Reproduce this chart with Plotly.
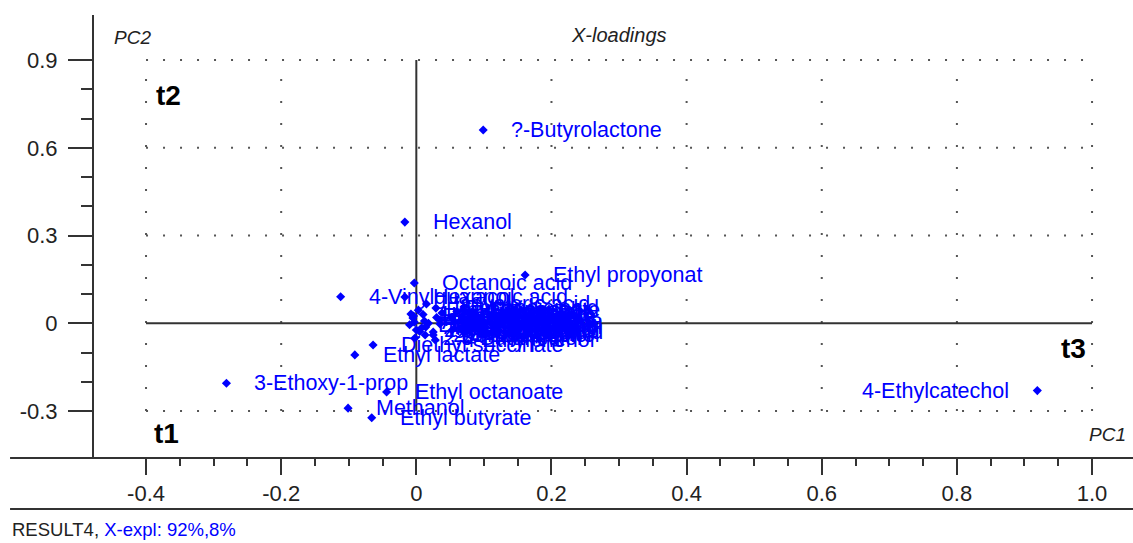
import numpy as np
import plotly.graph_objects as go

# X-loadings, PC1 vs PC2
compounds = [
    "?-Butyrolactone", "Hexanol", "Ethyl propyonat", "Octanoic acid",
    "4-Vinylguaiacol", "Hexanoic acid", "Diethyl succinate", "Ethyl lactate",
    "3-Ethoxy-1-prop", "Ethyl octanoate", "Methanol", "Ethyl butyrate",
    "4-Ethylcatechol",
    "Isobutanol", "Acetaldehyde", "1-Propanol", "Isoamyl alcohol",
    "Ethyl acetate", "Acetic acid", "Methionol", "Decanoic acid",
    "2,3-Butanediol", "2-Phenylethanol", "Ethyl hexanoate", "Ethyl decanoate",
    "Butyric acid", "Hexyl acetate", "Isovaleric acid", "Benzyl alcohol",
    "4-Ethylphenol", "2,3-Butanediol",
    "Isoamyl acetate", "Ethyl isovalerate", "Furfural", "Linalool",
    "Geraniol", "Eugenol", "Guaiacol", "Vanillin", "Citronellol",
    "Propanoic acid", "Isobutyric acid", "Diethyl malate", "4-Ethylguaiacol",
    "Ethyl valerate", "Isobutyl acetate", "Heptanol", "Octanol", "Nonanal",
    "Decanal", "Farnesol", "Terpineol", "Nerol", "Acetoin", "Syringol",
]
pc1 = [
    0.099, -0.017, 0.161, -0.003,
    -0.112, -0.017, -0.064, -0.091,
    -0.281, -0.044, -0.101, -0.066,
    0.919,
    -0.005, -0.003, -0.008, 0.014,
    0.038, 0.035, 0.053, 0.029,
    0.013, 0.000, -0.004, 0.003,
    0.052, 0.035, 0.015, 0.025,
    0.028, -0.002,
    0.012, -0.010, 0.075, 0.080,
    0.078, 0.085, 0.070, 0.088, 0.060,
    0.025, 0.010, 0.018, 0.008,
    0.030, 0.005, 0.090, 0.095, 0.092,
    0.083, 0.070, 0.072, 0.100, 0.095, 0.068,
]
pc2 = [
    0.661, 0.346, 0.165, 0.138,
    0.091, 0.090, -0.074, -0.108,
    -0.205, -0.235, -0.290, -0.323,
    -0.230,
    0.018, 0.004, 0.032, -0.013,
    0.035, 0.011, -0.023, 0.052,
    -0.040, -0.023, 0.025, 0.045,
    0.018, -0.002, 0.066, -0.040,
    -0.057, -0.050,
    0.008, -0.005, 0.005, 0.028,
    -0.015, 0.010, -0.030, 0.030, 0.040,
    -0.030, 0.030, 0.000, -0.015,
    0.020, -0.028, -0.005, 0.020, -0.022,
    0.040, 0.045, -0.008, 0.005, -0.035, 0.012,
]

x_ticks = [-0.4, -0.2, 0.0, 0.2, 0.4, 0.6, 0.8, 1.0]
x_tick_text = ["-0.4", "-0.2", "0", "0.2", "0.4", "0.6", "0.8", "1.0"]
y_ticks = [-0.3, 0.0, 0.3, 0.6, 0.9]
y_tick_text = ["-0.3", "0", "0.3", "0.6", "0.9"]
x_minor = np.round(np.arange(-0.4, 1.0001, 0.05), 3).tolist()
y_minor = np.round(np.arange(-0.3, 0.9001, 0.1), 3).tolist()

FONT = "Liberation Sans, Arial, sans-serif"
BLUE = "#0000ff"
INK = "#222222"
AXIS = "#333333"

fig = go.Figure()
fig.add_trace(go.Scatter(
    x=pc1, y=pc2, mode="markers",
    marker=dict(symbol="diamond", size=7, color=BLUE),
    hoverinfo="text", text=compounds, showlegend=False,
))

# point labels: to the right of the mark, flipped left near the right edge
for name, xv, yv in zip(compounds, pc1, pc2):
    right = xv < 0.8
    fig.add_annotation(
        x=xv, y=yv, text=name, showarrow=False,
        xanchor="left" if right else "right", yanchor="middle",
        xshift=26 if right else -26,
        font=dict(family=FONT, size=21.5, color=BLUE),
    )

# dotted grid limited to the tick span, solid lines through the origin
x_lo, x_hi = x_ticks[0], x_ticks[-1]
y_lo, y_hi = y_ticks[0], y_ticks[-1]
for xv in x_ticks:
    if xv == 0:
        continue
    fig.add_shape(type="line", x0=xv, x1=xv, y0=y_lo, y1=y_hi, layer="below",
                  line=dict(color="#555555", width=2, dash="2px,20px"))
for yv in y_ticks:
    if yv == 0:
        continue
    fig.add_shape(type="line", x0=x_lo, x1=x_hi, y0=yv, y1=yv, layer="below",
                  line=dict(color="#555555", width=2, dash="2px,15px"))
fig.add_shape(type="line", x0=0, x1=0, y0=y_lo, y1=y_hi, layer="below",
              line=dict(color=AXIS, width=2))
fig.add_shape(type="line", x0=x_lo, x1=x_hi, y0=0, y1=0, layer="below",
              line=dict(color=AXIS, width=2))

# horizontal axis rule and the frame rule underneath the tick labels
for py in (0.0, -0.115):
    fig.add_shape(type="line", xref="paper", yref="paper",
                  x0=-0.0808, x1=1.0, y0=py, y1=py,
                  line=dict(color=AXIS, width=2))

corner_text = [
    ("<i>PC2</i>", 0.0173, 0.950, "left", 19),
    ("<i>X-loadings</i>", 0.505, 0.955, "center", 20),
    ("<i>PC1</i>", 0.995, 0.052, "right", 19),
]
for txt, px, py, anchor, size in corner_text:
    fig.add_annotation(x=px, y=py, xref="paper", yref="paper", text=txt,
                       showarrow=False, xanchor=anchor, yanchor="middle",
                       font=dict(family=FONT, size=size, color=INK))

for txt, px, py, anchor in [("t2", 0.0575, 0.819, "left"),
                            ("t1", 0.0555, 0.056, "left"),
                            ("t3", 0.957, 0.248, "right")]:
    fig.add_annotation(x=px, y=py, xref="paper", yref="paper", text=f"<b>{txt}</b>",
                       showarrow=False, xanchor=anchor, yanchor="middle",
                       font=dict(family=FONT, size=28, color="#000000"))

fig.add_annotation(
    x=-0.0808, y=-0.1625, xref="paper", yref="paper", showarrow=False,
    xanchor="left", yanchor="middle",
    text=f"RESULT4, <span style='color:{BLUE}'>X-expl: 92%,8%</span>",
    font=dict(family=FONT, size=18.5, color=INK),
)

fig.update_layout(
    width=1133, height=543,
    margin=dict(l=94, r=0, t=15, b=85),
    paper_bgcolor="white", plot_bgcolor="white",
    xaxis=dict(
        range=[-0.477, 1.0606], showgrid=False, zeroline=False, showline=False,
        tickmode="array", tickvals=x_ticks, ticktext=x_tick_text,
        ticks="outside", ticklen=16, tickwidth=2, tickcolor=AXIS,
        tickfont=dict(family=FONT, size=22, color=INK),
        minor=dict(tickmode="array", tickvals=x_minor, ticks="outside",
                   ticklen=7, tickwidth=2, tickcolor=AXIS, showgrid=False),
    ),
    yaxis=dict(
        range=[-0.4605, 1.054], showgrid=False, zeroline=False,
        showline=True, linewidth=2, linecolor=AXIS,
        tickmode="array", tickvals=y_ticks, ticktext=y_tick_text,
        ticks="outside", ticklen=24, tickwidth=2, tickcolor=AXIS,
        ticklabelstandoff=6,
        tickfont=dict(family=FONT, size=22, color=INK),
        minor=dict(tickmode="array", tickvals=y_minor, ticks="outside",
                   ticklen=11, tickwidth=2, tickcolor=AXIS, showgrid=False),
    ),
)

fig.write_html("out.html")
